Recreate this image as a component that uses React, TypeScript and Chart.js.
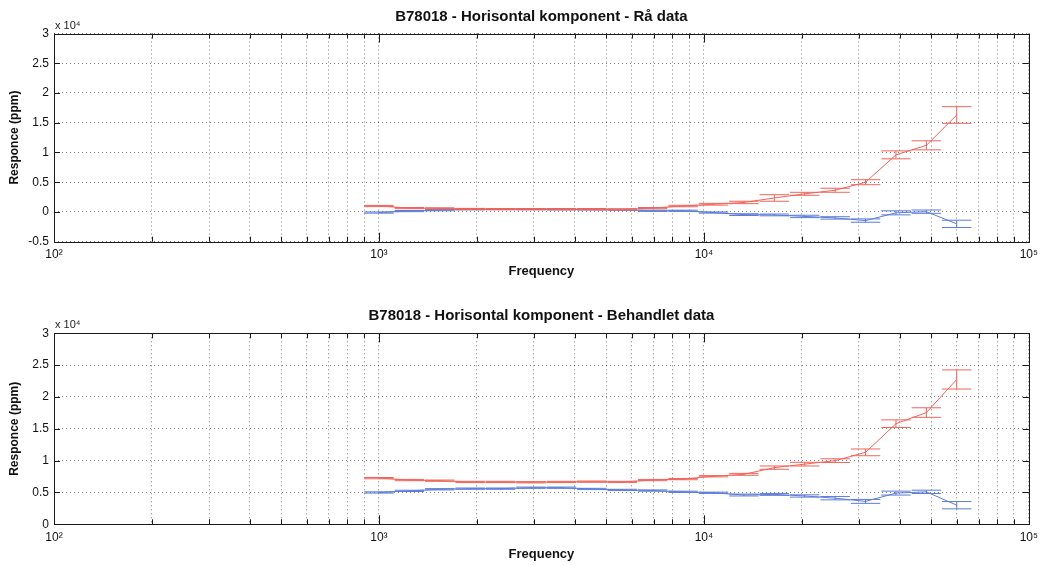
import React, { useEffect, useRef } from "react";
import { Chart, registerables } from "chart.js";

Chart.register(...registerables);

// ---- data ----
const frequencies = [
  1000, 1241, 1539, 1909, 2368, 2938, 3644, 4520, 5607, 6956,
  8629, 10704, 13278, 16471, 20432, 25346, 31441, 39003, 48383, 60000,
];

const xTickValues = [
  100, 200, 300, 400, 500, 600, 700, 800, 900,
  1000, 2000, 3000, 4000, 5000, 6000, 7000, 8000, 9000,
  10000, 20000, 30000, 40000, 50000, 60000, 70000, 80000, 90000,
  100000,
];
const xTickLabels: Record<number, string> = {
  100: "10²",
  1000: "10³",
  10000: "10⁴",
  100000: "10⁵",
};

// Top: Rå data (ppm)
const rawRed = [
  1000, 650, 600, 500, 480, 470, 450, 470, 420, 650,
  1000, 1300, 1600, 2350, 3050, 3650, 5000, 9600, 11200, 16300,
];
const rawRedErr = [
  100, 100, 100, 100, 100, 100, 100, 100, 100, 100,
  120, 150, 200, 550, 250, 340, 420, 670, 760, 1400,
];
const rawBlue = [
  -100, 150, 300, 450, 480, 470, 450, 420, 380, 200,
  200, -100, -450, -500, -750, -1000, -1450, -150, 50, -2000,
];
const rawBlueErr = [
  100, 100, 100, 100, 100, 100, 100, 100, 100, 100,
  100, 100, 150, 150, 200, 200, 280, 340, 280, 610,
];

// Bottom: Behandlet data (ppm)
const procRed = [
  7250, 6950, 6850, 6650, 6650, 6600, 6650, 6700, 6650, 6950,
  7100, 7550, 7850, 8900, 9450, 10000, 11300, 15800, 17550, 22750,
];
const procRedErr = [
  100, 100, 100, 100, 100, 100, 100, 100, 100, 100,
  100, 100, 150, 260, 290, 290, 530, 600, 750, 1500,
];
const procBlue = [
  5000, 5250, 5500, 5600, 5600, 5750, 5750, 5550, 5400, 5300,
  5100, 4950, 4600, 4700, 4450, 4100, 3600, 4900, 5100, 3000,
];
const procBlueErr = [
  100, 100, 100, 100, 100, 100, 100, 100, 100, 100,
  100, 100, 150, 150, 180, 260, 310, 310, 260, 570,
];

// ---- styling ----
const RED = "rgb(240,100,90)";
const BLUE = "rgb(92,124,216)";
const GRID = "rgba(0,0,0,0.5)";
const CAP = 1.11;
const FONT = "'Liberation Sans', Arial, Helvetica, sans-serif";

Chart.defaults.font.family = FONT;

type Pt = { x: number; y: number | null };

function linePoints(freqs: number[], vals: number[]): Pt[] {
  return freqs.map((f, i) => ({ x: f, y: vals[i] }));
}

function errorBarPoints(freqs: number[], vals: number[], errs: number[]): Pt[] {
  const pts: Pt[] = [];
  freqs.forEach((f, i) => {
    const v = vals[i];
    const e = errs[i];
    pts.push({ x: f / CAP, y: v + e }, { x: f * CAP, y: v + e }, { x: f, y: null });
    pts.push({ x: f / CAP, y: v - e }, { x: f * CAP, y: v - e }, { x: f, y: null });
    pts.push({ x: f, y: v - e }, { x: f, y: v + e }, { x: f, y: null });
  });
  return pts;
}

const matlabAxes = {
  id: "matlabAxes",
  afterDatasetsDraw(chart: any) {
    const { ctx, chartArea: a, scales } = chart;
    const x = scales.x;
    const y = scales.y;
    ctx.save();
    ctx.strokeStyle = "#1a1a1a";
    ctx.lineWidth = 1;
    ctx.setLineDash([]);
    ctx.beginPath();
    x.ticks.forEach((t: any) => {
      const px = Math.round(x.getPixelForValue(t.value)) + 0.5;
      const lg = Math.log10(t.value);
      const major = Math.abs(lg - Math.round(lg)) < 1e-9;
      const len = major ? 9 : 5;
      ctx.moveTo(px, a.bottom);
      ctx.lineTo(px, a.bottom - len);
      ctx.moveTo(px, a.top);
      ctx.lineTo(px, a.top + len);
    });
    y.ticks.forEach((t: any) => {
      const py = Math.round(y.getPixelForValue(t.value)) + 0.5;
      ctx.moveTo(a.left, py);
      ctx.lineTo(a.left + 6, py);
      ctx.moveTo(a.right, py);
      ctx.lineTo(a.right - 6, py);
    });
    ctx.stroke();
    ctx.strokeRect(
      Math.round(a.left) + 0.5,
      Math.round(a.top) + 0.5,
      Math.round(a.right - a.left),
      Math.round(a.bottom - a.top)
    );
    // exponent label
    ctx.fillStyle = "#222";
    ctx.font = `11px ${FONT}`;
    ctx.textAlign = "left";
    ctx.textBaseline = "alphabetic";
    ctx.fillText("x 10⁴", a.left + 1, a.top - 5);
    ctx.restore();
  },
};

function makeConfig(
  title: string,
  yMin: number,
  red: number[],
  redErr: number[],
  blue: number[],
  blueErr: number[],
  titlePad: { top: number; bottom: number },
  xAxisHeight: number,
  xTitlePadBottom: number
): any {
  return {
    type: "line",
    data: {
      datasets: [
        { data: linePoints(frequencies, red), borderColor: RED, borderWidth: 1, pointRadius: 0, order: 1 },
        { data: errorBarPoints(frequencies, red, redErr), borderColor: RED, borderWidth: 1, pointRadius: 0, spanGaps: false, order: 1 },
        { data: linePoints(frequencies, blue), borderColor: BLUE, borderWidth: 1, pointRadius: 0, order: 2 },
        { data: errorBarPoints(frequencies, blue, blueErr), borderColor: BLUE, borderWidth: 1, pointRadius: 0, spanGaps: false, order: 2 },
      ],
    },
    options: {
      animation: false,
      responsive: false,
      events: [],
      layout: { padding: { left: 0, right: 8, top: 0, bottom: 0 } },
      plugins: {
        legend: { display: false },
        tooltip: { enabled: false },
        title: {
          display: true,
          fullSize: false,
          text: title,
          color: "#111",
          font: { size: 15, weight: "bold", family: FONT },
          padding: titlePad,
        },
      },
      scales: {
        x: {
          type: "logarithmic",
          min: 100,
          max: 100000,
          afterBuildTicks: (s: any) => {
            s.ticks = xTickValues.map((v) => ({ value: v }));
          },
          afterFit: (s: any) => {
            s.height = xAxisHeight;
          },
          ticks: {
            autoSkip: false,
            maxRotation: 0,
            minRotation: 0,
            padding: 6,
            color: "#111",
            font: { size: 12, family: FONT },
            callback: (v: any) => xTickLabels[Number(v)] ?? "",
          },
          grid: { color: GRID, lineWidth: 1, drawTicks: false },
          border: { display: false, dash: [1, 3] },
          title: {
            display: true,
            text: "Frequency",
            color: "#111",
            font: { size: 13, weight: "bold", family: FONT },
            padding: { top: 0, bottom: xTitlePadBottom },
          },
        },
        y: {
          min: yMin,
          max: 30000,
          afterFit: (s: any) => {
            s.width = 54;
          },
          ticks: {
            stepSize: 5000,
            padding: 5,
            color: "#111",
            font: { size: 12, family: FONT },
            callback: (v: any) => String(Number(v) / 10000),
          },
          grid: { color: GRID, lineWidth: 1, drawTicks: false },
          border: { display: false, dash: [1, 3] },
          title: {
            display: true,
            text: "Responce (ppm)",
            color: "#111",
            font: { size: 12, weight: "bold", family: FONT },
            padding: { top: 7, bottom: 0 },
          },
        },
      },
    },
    plugins: [matlabAxes],
  };
}

export default function App() {
  const topRef = useRef<HTMLCanvasElement>(null);
  const botRef = useRef<HTMLCanvasElement>(null);

  useEffect(() => {
    const c1 = new Chart(
      topRef.current as HTMLCanvasElement,
      makeConfig(
        "B78018 - Horisontal komponent - Rå data",
        -5000,
        rawRed,
        rawRedErr,
        rawBlue,
        rawBlueErr,
        { top: 8, bottom: 7.5 },
        41.3,
        4.2
      )
    );
    const c2 = new Chart(
      botRef.current as HTMLCanvasElement,
      makeConfig(
        "B78018 - Horisontal komponent - Behandlet data",
        0,
        procRed,
        procRedErr,
        procBlue,
        procBlueErr,
        { top: 24, bottom: 8.3 },
        40.7,
        3.2
      )
    );
    return () => {
      c1.destroy();
      c2.destroy();
    };
  }, []);

  return (
    <div
      style={{
        position: "absolute",
        left: 0,
        top: 0,
        width: 1044,
        height: 565,
        background: "#fff",
      }}
    >
      <canvas ref={topRef} width={1044} height={283} style={{ display: "block" }} />
      <canvas ref={botRef} width={1044} height={282} style={{ display: "block" }} />
    </div>
  );
}
